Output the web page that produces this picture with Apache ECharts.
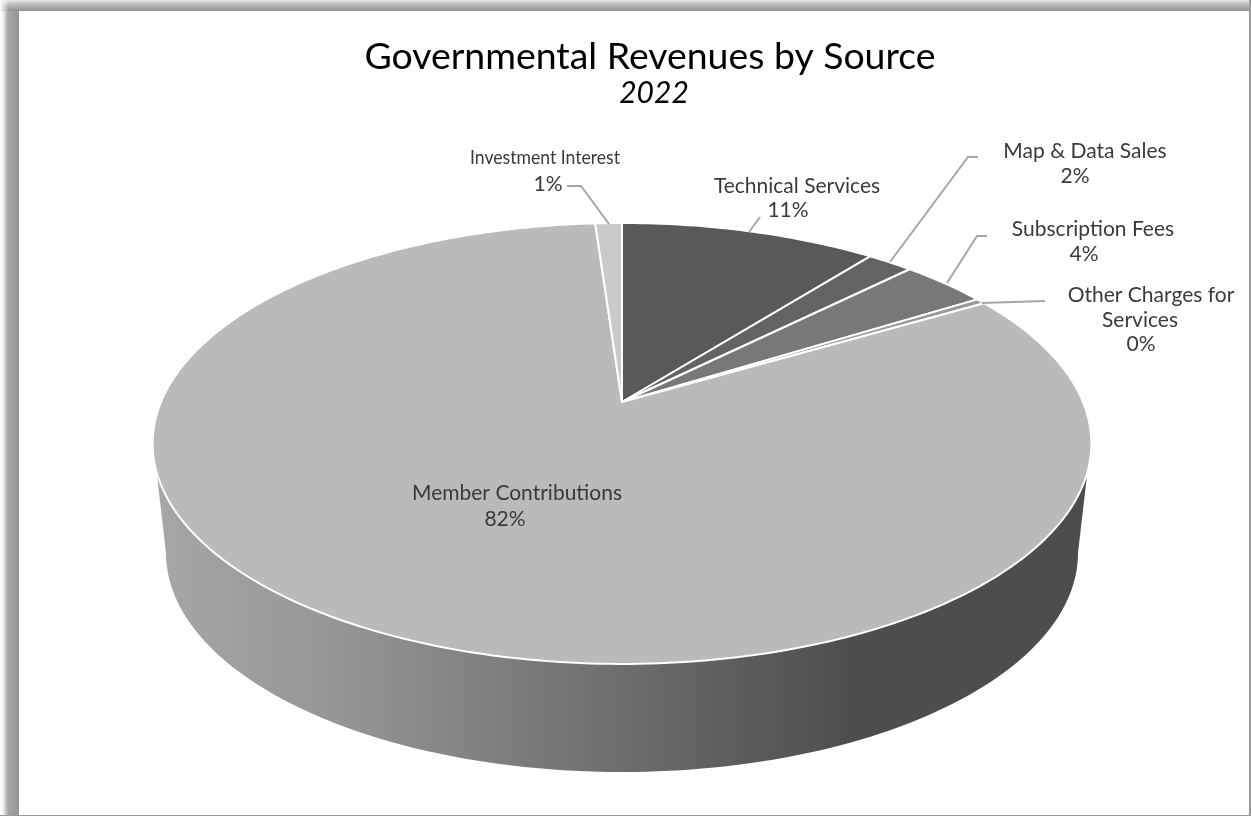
<!DOCTYPE html>
<html><head><meta charset="utf-8">
<style>html,body{margin:0;padding:0;background:#fff}#c{width:1251px;height:816px}</style>
<script src="https://cdn.jsdelivr.net/npm/echarts@6/dist/echarts.min.js"></script>
</head><body><div id="c"></div>
<script>
// Data
const categories = ['Technical Services','Map & Data Sales','Subscription Fees','Other Charges for Services','Member Contributions','Investment Interest'];
const shares = [10.6, 1.9, 3.6, 0.4, 82.4, 1.1];
const titleText = 'Governmental Revenues by Source';
const subtitleText = '2022';

// Styling / layout
const sliceColors = ['#595959','#636363','#787878','#9a9a9a','#bababa','#cacaca'];
const FONT = 'Lato';
const apex = {x:622, y:402}, A = 461, B = 212.7, K = 0.188;
const topEll = {cx:622, cy:443.5, rx:469, ry:220.5};
const lowEll = {cx:622, cy:553, rx:456, ry:219};
const labelPos = [
  {x:[797,788],y:[186,210], line:[[749,232],[760,217]]},
  {x:[1085,1075],y:[151,176], line:[[890,262],[968,157],[978,157]]},
  {x:[1093,1084],y:[229,254], line:[[947,283],[977,236],[987,236]]},
  {x:[1151,1140,1141],y:[295,320,344], lines:['Other Charges for','Services'], line:[[982,303],[1045,301]]},
  {x:[517,505],y:[493,519], line:null},
  {x:[545,548],y:[158,184], squeeze:0.88, line:[[609,224],[581,186],[567,186]]}
];
const total = shares.reduce((a,b)=>a+b,0);
function proj(frac){
  const t = frac*2*Math.PI, w = 1+K*Math.cos(t);
  return [apex.x + A*Math.sin(t)/w, apex.y - B*Math.cos(t)/w];
}
function startOf(i){let s=0;for(let k=0;k<i;k++)s+=shares[k];return s/total;}

function renderWall(params, api){
  const pts=[];
  const a0=6.9*Math.PI/180;
  pts.push([topEll.cx-topEll.rx*Math.cos(a0), topEll.cy+topEll.ry*Math.sin(a0)]);
  for(let d=0;d<=180;d+=1.5){
    const p=d*Math.PI/180;
    pts.push([lowEll.cx-lowEll.rx*Math.cos(p), lowEll.cy+lowEll.ry*Math.sin(p)]);
  }
  pts.push([topEll.cx+topEll.rx*Math.cos(a0), topEll.cy+topEll.ry*Math.sin(a0)]);
  return {type:'polygon',shape:{points:pts},style:{
    fill:new echarts.graphic.LinearGradient(0,0,1,0,[
      {offset:0,color:'#a6a6a6'},{offset:0.2,color:'#959595'},{offset:0.4,color:'#7a7a7a'},
      {offset:0.6,color:'#606060'},{offset:0.75,color:'#4d4d4d'},{offset:1,color:'#4d4d4d'}])}};
}
function renderSlice(params, api){
  const i=params.dataIndex, f0=startOf(i), f1=f0+api.value(0)/total;
  const n=Math.max(2,Math.ceil((f1-f0)*360));
  const pts=[[apex.x,apex.y]];
  for(let k=0;k<=n;k++)pts.push(proj(f0+(f1-f0)*k/n));
  return {type:'polygon',shape:{points:pts},style:{fill:sliceColors[i],stroke:'#fff',lineWidth:2,lineJoin:'round'}};
}
function renderLabel(params, api){
  const i=params.dataIndex, L=labelPos[i], children=[];
  const pct=Math.round(api.value(0)/total*100)+'%';
  const rows=(L.lines||[categories[i]]).concat([pct]);
  rows.forEach((t,r)=>{
    const squeezed=L.squeeze&&r===0;
    children.push({type:'text',
      x:L.x[r],y:L.y[r],scaleX:squeezed?L.squeeze:1,
      style:{text:t,x:0,y:0,align:'center',verticalAlign:'middle',fill:'#3a3a3a',font:(squeezed?'20px ':'21px ')+FONT}});
  });
  if(L.line)children.unshift({type:'polyline',shape:{points:L.line},style:{fill:'none',stroke:'#a6a6a6',lineWidth:2}});
  return {type:'group',children};
}
const rows=shares.map((v,i)=>({value:[v],name:categories[i]}));
const chart=echarts.init(document.getElementById('c'),null,{renderer:'canvas'});
const grad=(x0,y0,x1,y1,st)=>new echarts.graphic.LinearGradient(x0,y0,x1,y1,st);
chart.setOption({
  animation:false,
  backgroundColor:'#fff',
  title:[
    {text:titleText,left:645,top:52,textAlign:'center',textVerticalAlign:'middle',textStyle:{fontFamily:FONT,fontSize:37.4,fontWeight:'normal',color:'#000'}},
    {text:subtitleText,left:649,top:88,textAlign:'center',textVerticalAlign:'middle',textStyle:{fontFamily:FONT,fontSize:30,fontStyle:'italic',fontWeight:'normal',color:'#000'}}
  ],
  graphic:[
    {type:'rect',z:-1,shape:{x:0,y:0,width:19,height:816},style:{fill:grad(0,0,1,0,[{offset:0,color:'#fff'},{offset:0.16,color:'#f4f4f4'},{offset:0.42,color:'#a6a6a6'},{offset:1,color:'#969696'}])}},
    {type:'rect',z:-1,shape:{x:0,y:0,width:1251,height:11},style:{fill:grad(0,0,0,1,[{offset:0,color:'#e8e8e8'},{offset:0.4,color:'#bdbdbd'},{offset:1,color:'#929292'}])}},
    {type:'rect',z:-1,shape:{x:0,y:0,width:9,height:11},style:{fill:grad(0,0,1,0,[{offset:0,color:'rgba(255,255,255,1)'},{offset:1,color:'rgba(255,255,255,0)'}])}},
    {type:'rect',z:-1,shape:{x:1249,y:0,width:2,height:816},style:{fill:'#9a9a9a'}},
    {type:'rect',z:-1,shape:{x:0,y:815,width:1251,height:1},style:{fill:'#9a9a9a'}}
  ],
  series:[
    {type:'custom',coordinateSystem:'none',silent:true,z:1,data:[{value:[shares[4]],name:categories[4]}],renderItem:renderWall},
    {type:'custom',coordinateSystem:'none',silent:true,z:2,data:rows,renderItem:renderSlice},
    {type:'custom',coordinateSystem:'none',silent:true,z:3,data:rows,renderItem:renderLabel}
  ]
});
</script></body></html>
